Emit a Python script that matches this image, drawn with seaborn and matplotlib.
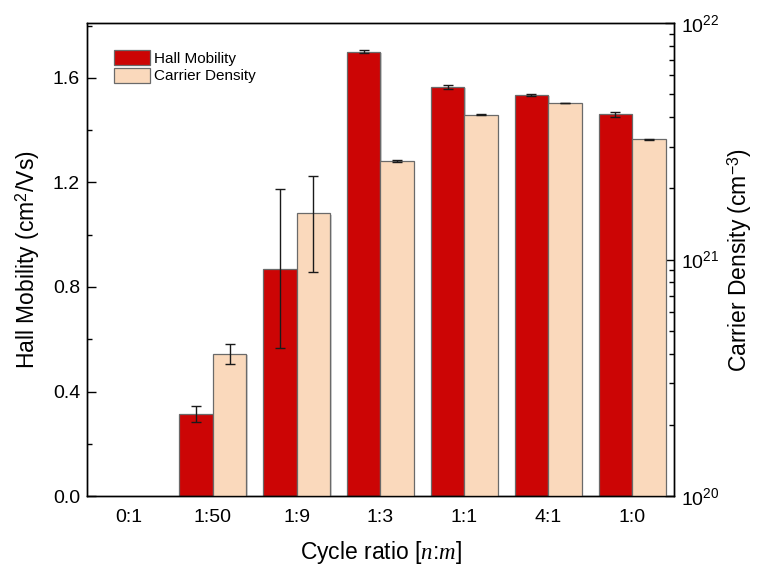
import numpy as np
import pandas as pd
import seaborn as sns
import matplotlib
matplotlib.use("Agg")
import matplotlib.pyplot as plt
import matplotlib.patheffects as pe
from matplotlib.patches import Patch
from matplotlib.ticker import (MultipleLocator, LogLocator, LogFormatterSciNotation,
                               NullFormatter, FormatStrFormatter)

# ---- data -------------------------------------------------------------
ratios = ["0:1", "1:50", "1:9", "1:3", "1:1", "4:1", "1:0"]
hall_mobility = [np.nan, 0.315, 0.87, 1.70, 1.565, 1.535, 1.46]          # cm^2/Vs
hall_err = [np.nan, 0.03, 0.305, 0.005, 0.008, 0.003, 0.01]
carrier_density = [np.nan, 4.0e20, 1.57e21, 2.61e21, 4.1e21, 4.6e21, 3.22e21]  # cm^-3
carrier_err = [np.nan, 0.39e20, 0.68e21, 0.03e21, 0.01e21, 0.01e21, 0.01e21]

series_names = ["Hall Mobility", "Carrier Density"]
colors = {"Hall Mobility": "#CC0505", "Carrier Density": "#FAD9BC"}

hall_df = pd.DataFrame({"ratio": ratios, "value": hall_mobility, "series": series_names[0]})
dens_df = pd.DataFrame({"ratio": ratios, "value": carrier_density, "series": series_names[1]})

# ---- style ------------------------------------------------------------
sns.set_theme(style="ticks")
plt.rcParams["font.family"] = ["Liberation Sans", "DejaVu Sans"]
plt.rcParams["mathtext.fontset"] = "custom"
plt.rcParams["mathtext.rm"] = "Liberation Sans"
plt.rcParams["mathtext.it"] = "Liberation Serif:italic"
for key in ("text.color", "axes.labelcolor", "xtick.color", "ytick.color", "axes.edgecolor"):
    plt.rcParams[key] = "black"
plt.rcParams["axes.linewidth"] = 1.0

fig = plt.figure(figsize=(7.59, 5.65), dpi=100)
ax = fig.add_axes([0.1146, 0.122, 0.7734, 0.8373])
ax2 = ax.twinx()
ax2.set_yscale("log")

shadow = [pe.SimplePatchShadow(offset=(1.0, -1.0), shadow_rgbFace="#9a9a9a", alpha=0.45), pe.Normal()]
bar_kw = dict(x="ratio", y="value", hue="series", hue_order=series_names, order=ratios,
              palette=colors, dodge=True, width=0.8, errorbar=None, legend=False,
              edgecolor="#6a6a6a", linewidth=0.9, saturation=1)

sns.barplot(data=hall_df, ax=ax, **bar_kw)
sns.barplot(data=dens_df, ax=ax2, **bar_kw)

for axis_, vals, errs in ((ax, hall_mobility, hall_err), (ax2, carrier_density, carrier_err)):
    xs, ys, es = [], [], []
    for p in axis_.patches:
        p.set_path_effects(shadow)
        xc = p.get_x() + p.get_width() / 2
        i = int(round(xc))
        if np.isfinite(vals[i]):
            xs.append(xc); ys.append(vals[i]); es.append(errs[i])
    axis_.errorbar(xs, ys, yerr=es, fmt="none", ecolor="#1a1a1a", elinewidth=1.0,
                   capsize=3.5, capthick=1.0, zorder=5)

# ---- axes -------------------------------------------------------------
ax.set_xlim(-0.5, len(ratios) - 0.5)
ax.set_ylim(0, 1.81)
ax2.set_ylim(1e20, 1e22)

ax.yaxis.set_major_locator(MultipleLocator(0.4))
ax.yaxis.set_minor_locator(MultipleLocator(0.2))
ax.yaxis.set_major_formatter(FormatStrFormatter("%.1f"))
ax.tick_params(axis="y", which="major", direction="in", length=6.5, width=1.0, labelsize=14, pad=5)
ax.tick_params(axis="y", which="minor", direction="in", length=3.5, width=1.0)
ax.tick_params(axis="x", which="both", length=0, labelsize=14, pad=9)

ax2.yaxis.set_major_locator(LogLocator(base=10, numticks=10))
ax2.yaxis.set_minor_locator(LogLocator(base=10, subs=np.arange(2, 10), numticks=20))
ax2.yaxis.set_major_formatter(LogFormatterSciNotation())
ax2.yaxis.set_minor_formatter(NullFormatter())
ax2.tick_params(axis="y", which="major", direction="in", length=6.5, width=1.0, labelsize=14, pad=5)
ax2.tick_params(axis="y", which="minor", direction="in", length=3.5, width=1.0)

for a in (ax, ax2):
    for s in a.spines.values():
        s.set_visible(True)
        s.set_linewidth(1.0)
        s.set_color("black")

ax.set_xlabel(r"Cycle ratio [$n$:$m$]", fontsize=16.5, labelpad=10)
ax.set_ylabel(r"Hall Mobility (cm$^{2}$/Vs)", fontsize=16.5, labelpad=8)
ax2.set_ylabel(r"Carrier Density (cm$^{-3}$)", fontsize=16.5, labelpad=4)

handles = [Patch(facecolor=colors[n], edgecolor="#6a6a6a", linewidth=0.9, label=n) for n in series_names]
ax.legend(handles=handles, loc="upper left", bbox_to_anchor=(0.03, 0.962), frameon=False,
          fontsize=11, handlelength=2.4, handleheight=1.15, handletextpad=0.25,
          labelspacing=0.12, borderaxespad=0.2)

fig.savefig("out.png", dpi=100)
